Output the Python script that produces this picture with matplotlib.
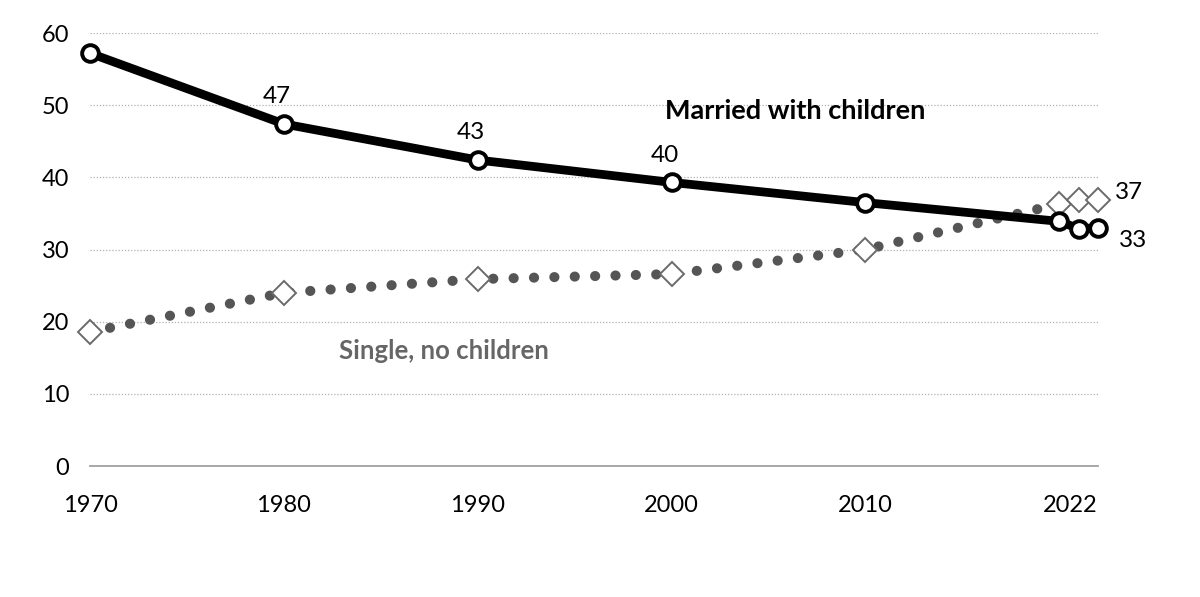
import matplotlib.pyplot as plt

years = [1970, 1980, 1990, 2000, 2010, 2020, 2021, 2022]
married = [57.2, 47.4, 42.4, 39.3, 36.5, 33.9, 32.9, 33.0]
single = [18.6, 24.0, 25.9, 26.6, 30.0, 36.3, 36.8, 36.9]

married_labels = {1980: '47', 1990: '43', 2000: '40'}
yticks = [0, 10, 20, 30, 40, 50, 60]
xticks = [1970, 1980, 1990, 2000, 2010, 2022]

plt.rcParams['font.family'] = ['Lato', 'DejaVu Sans']
plt.rcParams['font.size'] = 17

fig = plt.figure(figsize=(12, 5.97), dpi=100)
ax = fig.add_axes([0.075, 0.2194, 0.84, 0.7253])

ax.plot(years, single, color='#555555', lw=7.3, ls=(0, (0.01, 2.0)),
        dash_capstyle='round', zorder=2, clip_on=False)
ax.plot(years, single, ls='none', marker='D', ms=12, mfc='white',
        mec='#6a6a6a', mew=1.4, zorder=3, clip_on=False)
ax.plot(years, married, color='black', lw=6.3, marker='o', ms=12,
        mfc='white', mec='black', mew=2.8, zorder=4, clip_on=False)

for yr, txt in married_labels.items():
    v = married[years.index(yr)]
    ax.annotate(txt, (yr, v), xytext=(-5, 12), textcoords='offset points',
                ha='center', va='bottom', fontsize=17.5)
ax.annotate('37', (years[-1], single[-1]), xytext=(12, 5),
            textcoords='offset points', ha='left', va='center', fontsize=17.5)
ax.annotate('33', (years[-1], married[-1]), xytext=(15, -9),
            textcoords='offset points', ha='left', va='center', fontsize=17.5)

ax.text(2006.4, 49.2, 'Married with children', fontsize=19.5,
        fontweight='bold', ha='center', va='center', color='black')
ax.text(1988.25, 16.0, 'Single, no children', fontsize=18.5,
        fontweight='bold', ha='center', va='center', color='#666666')

ax.set_xlim(1970, 2022)
ax.set_ylim(0, 60)
ax.set_yticks(yticks)
ax.set_xticks(xticks)
ax.set_xticklabels([str(x) for x in xticks])
ax.get_xticklabels()[-1].set_ha('right')
ax.tick_params(length=0)
ax.tick_params(axis='x', pad=21)
ax.tick_params(axis='y', pad=15)

ax.grid(axis='y', color='#b0b0b0', lw=0.9, ls=(0, (1, 1.5)))
ax.set_axisbelow(True)
for s in ['top', 'right', 'left']:
    ax.spines[s].set_visible(False)
ax.spines['bottom'].set_color('#a0a0a0')
ax.spines['bottom'].set_linewidth(1.3)
ax.yaxis.get_gridlines()[0].set_visible(False)

fig.savefig('out.png', dpi=100)
